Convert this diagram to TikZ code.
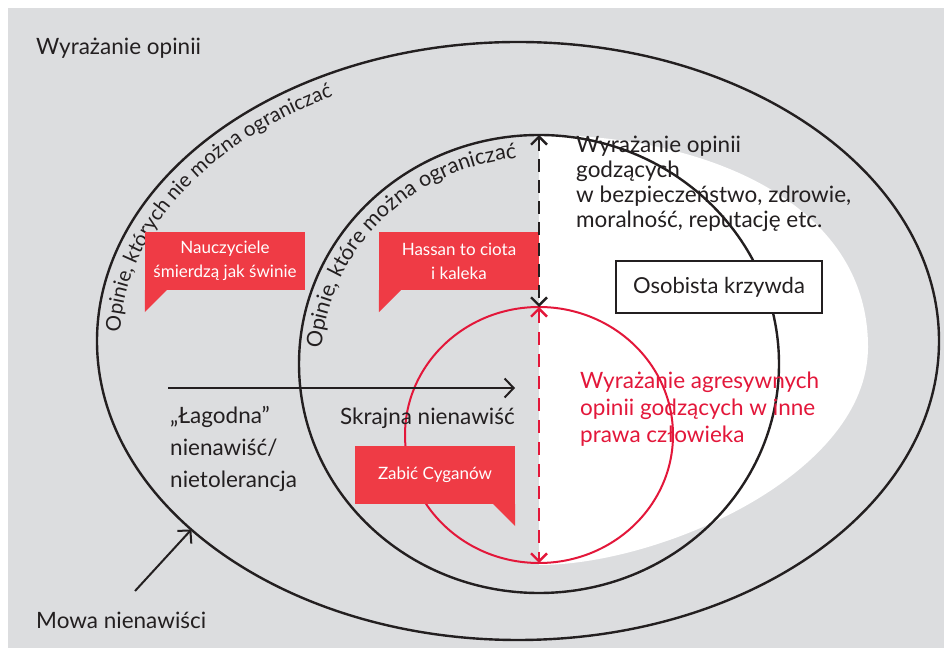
\documentclass[tikz,border=0pt]{standalone}
\usepackage{fontspec}
\setmainfont{Lato}
\usetikzlibrary{arrows.meta,shapes.geometric,decorations.text}
\definecolor{bggray}{HTML}{DCDDDF}
\definecolor{bubblered}{HTML}{EF3B45}
\definecolor{linered}{HTML}{E3173A}
\definecolor{ink}{HTML}{231F20}

\begin{document}
\begin{tikzpicture}[x=1pt, y=1pt,
    >={Straight Barb[length=9pt,width=19pt]},
    ring/.style={ellipse, draw=ink, line width=2.4pt, inner sep=0pt, outer sep=0pt},
    txt/.style={anchor=base west, align=left, inner sep=0pt, text=ink, font=\fontsize{22.5}{25}\selectfont},
    bubble/.style={fill=bubblered, text=white, align=center, inner sep=0pt, minimum width=160pt, minimum height=58pt, font=\fontsize{17}{24}\selectfont},
    arc text/.style 2 args={decorate, decoration={text along path, text align=center, text color=ink, text={|\fontsize{#1}{22}\selectfont|#2}}}]

    \useasboundingbox (0,0) rectangle (944,650);
    \fill[bggray] (8,2) rectangle (944,642);

    % white zone on the right
    \fill[white] (539,515) .. controls (700,516) and (868,450) .. (868,303)
        .. controls (868,175) and (660,85) .. (539,85) -- cycle;

    \node[ring, minimum width=842pt, minimum height=598pt] at (518,309) (outer) {};
    \node[ring, minimum width=480pt, minimum height=458pt] at (539,286) (inner) {};
    \node[ring, draw=linered, line width=2pt, minimum width=268pt, minimum height=256pt] at (539,215) (red) {};

    \path[arc text={20.5}{Opinie, których nie można ograniczać}] (518,309) ++(186:398 and 276) arc[start angle=186, end angle=112, x radius=398, y radius=276];
    \path[arc text={21.5}{Opinie, które można ograniczać}] (539,286) ++(182:218 and 207) arc[start angle=182, end angle=90, x radius=218, y radius=207];

    \node[txt] at (36,595) (opinion) {Wyrażanie opinii};
    \node[txt] at (576,422) (harm) {Wyrażanie opinii\\godzących\\w bezpieczeństwo, zdrowie,\\moralność, reputację etc.};
    \node[draw=ink, line width=2.4pt, fill=white, minimum width=206pt, minimum height=52pt, text=ink, font=\fontsize{22}{25}\selectfont] at (719,363) (personal) {Osobista krzywda};
    \node[txt, text=linered, font=\fontsize{22.5}{27}\selectfont] at (580,207) (aggressive) {Wyrażanie agresywnych\\opinii godzących w inne\\prawa człowieka};
    \node[txt, font=\fontsize{22.5}{32}\selectfont] at (170,162) (mild) {„Łagodna”\\nienawiść/\\nietolerancja};
    \node[txt, anchor=base east] at (515,225) (extreme) {Skrajna nienawiść};
    \node[txt] at (36,22) (speech) {Mowa nienawiści};

    \node[bubble] at (225,389) (teachers) {Nauczyciele\\śmierdzą jak świnie};
    \node[bubble] at (459,389) (hassan) {Hassan to ciota\\i kaleka};
    \node[bubble] at (435,175) (gypsies) {Zabić Cyganów};
    \fill[bubblered] (teachers.south west) -- ++(22,0) -- ++(-22,-22) -- cycle;
    \fill[bubblered] (hassan.south west) -- ++(22,0) -- ++(-22,-22) -- cycle;
    \fill[bubblered] (gypsies.south east) -- ++(-22,0) -- ++(22,-22) -- cycle;

    \coordinate (scale start) at (168,262);
    \coordinate (scale end) at (515,262);
    \coordinate (speech tail) at (135,59);

    \draw[->, ink, line width=2pt] (scale start) -- (scale end);
    \draw[->, ink, line width=2pt] (speech tail) -- (outer.210.8);
    \draw[<->, ink, line width=2.4pt, dash pattern=on 13pt off 8pt, >={Straight Barb[length=8pt,width=16pt]}] (inner.north) -- (red.north);
    \draw[<->, linered, line width=2.4pt, dash pattern=on 13pt off 9pt, >={Straight Barb[length=8pt,width=16pt]}] (red.north) -- (red.south);

\end{tikzpicture}
\end{document}
